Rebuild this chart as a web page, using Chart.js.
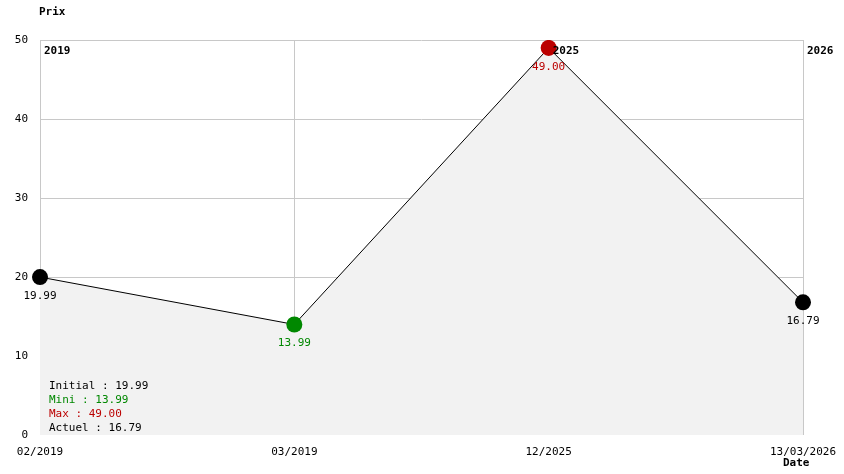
<!DOCTYPE html>
<html><head><meta charset="utf-8">
<script src="https://cdn.jsdelivr.net/npm/chart.js@4/dist/chart.umd.min.js"></script>
<style>html,body{margin:0;padding:0;background:#fff}#w{width:844px;height:474px}</style>
</head><body><div id="w"><canvas id="c"></canvas></div>
<script>
const categories = ["02/2019", "03/2019", "12/2025", "13/03/2026"];
const prices = [19.99, 13.99, 49.00, 16.79];
const pointColors = ["#000000", "#008800", "#bb0000", "#000000"];
const yTicks = [0, 10, 20, 30, 40, 50];
const yearMarks = [{idx: 0, label: "2019"}, {idx: 2, label: "2025"}, {idx: 3, label: "2026"}];
const summary = [["Initial : 19.99", "#000"], ["Mini : 13.99", "#008800"], ["Max : 49.00", "#bb0000"], ["Actuel : 16.79", "#000"]];
const FONT = '11px "DejaVu Sans Mono", monospace';
const BFONT = 'bold 11px "DejaVu Sans Mono", monospace';

const deco = {
  id: 'deco',
  beforeDatasetsDraw(ch) {
    const c = ch.ctx, a = ch.chartArea, x = ch.scales.x, y = ch.scales.y;
    c.save();
    c.strokeStyle = '#c8c8c8'; c.lineWidth = 1;
    yTicks.forEach(v => { const py = Math.round(y.getPixelForValue(v)) + 0.5; if (v > 0) { c.beginPath(); c.moveTo(a.left, py); c.lineTo(a.right, py); c.stroke(); } });
    categories.forEach((_, i) => { const px = Math.round(x.getPixelForValue(i)) + 0.5; c.beginPath(); c.moveTo(px, a.top); c.lineTo(px, a.bottom); c.stroke(); });
    c.restore();
  },
  afterDatasetsDraw(ch) {
    const c = ch.ctx, a = ch.chartArea, x = ch.scales.x, y = ch.scales.y;
    c.save();
    c.font = FONT; c.fillStyle = '#000'; c.textBaseline = 'middle';
    c.textAlign = 'right';
    yTicks.forEach(v => c.fillText(String(v), 28, y.getPixelForValue(v)));
    c.textAlign = 'center';
    categories.forEach((t, i) => c.fillText(t, x.getPixelForValue(i), 452));
    c.font = BFONT; c.textAlign = 'left';
    c.fillText("Prix", 39, 12);
    c.fillText("Date", 783, 463);
    yearMarks.forEach(m => c.fillText(m.label, x.getPixelForValue(m.idx) + 4, 51));
    c.font = FONT; c.textAlign = 'center';
    prices.forEach((v, i) => { c.fillStyle = pointColors[i]; c.fillText(v.toFixed(2), x.getPixelForValue(i), y.getPixelForValue(v) + 19); });
    c.textAlign = 'left';
    summary.forEach((s, i) => { c.fillStyle = s[1]; c.fillText(s[0], 49, 386 + i * 14); });
    c.restore();
  }
};

new Chart(document.getElementById('c'), {
  type: 'line',
  data: { labels: categories, datasets: [{ data: prices, borderColor: '#000', borderWidth: 1, fill: 'origin', backgroundColor: '#f2f2f2', tension: 0, pointRadius: 8, pointHoverRadius: 8, pointBackgroundColor: pointColors, pointBorderColor: pointColors, pointBorderWidth: 0 }] },
  options: {
    responsive: true, maintainAspectRatio: false, animation: false,
    layout: { padding: { left: 40, right: 41, top: 40, bottom: 39 } },
    plugins: { legend: { display: false }, tooltip: { enabled: false } },
    scales: {
      x: { type: 'category', offset: false, display: false },
      y: { min: 0, max: 50, display: false }
    }
  },
  plugins: [deco]
});
</script></body></html>
